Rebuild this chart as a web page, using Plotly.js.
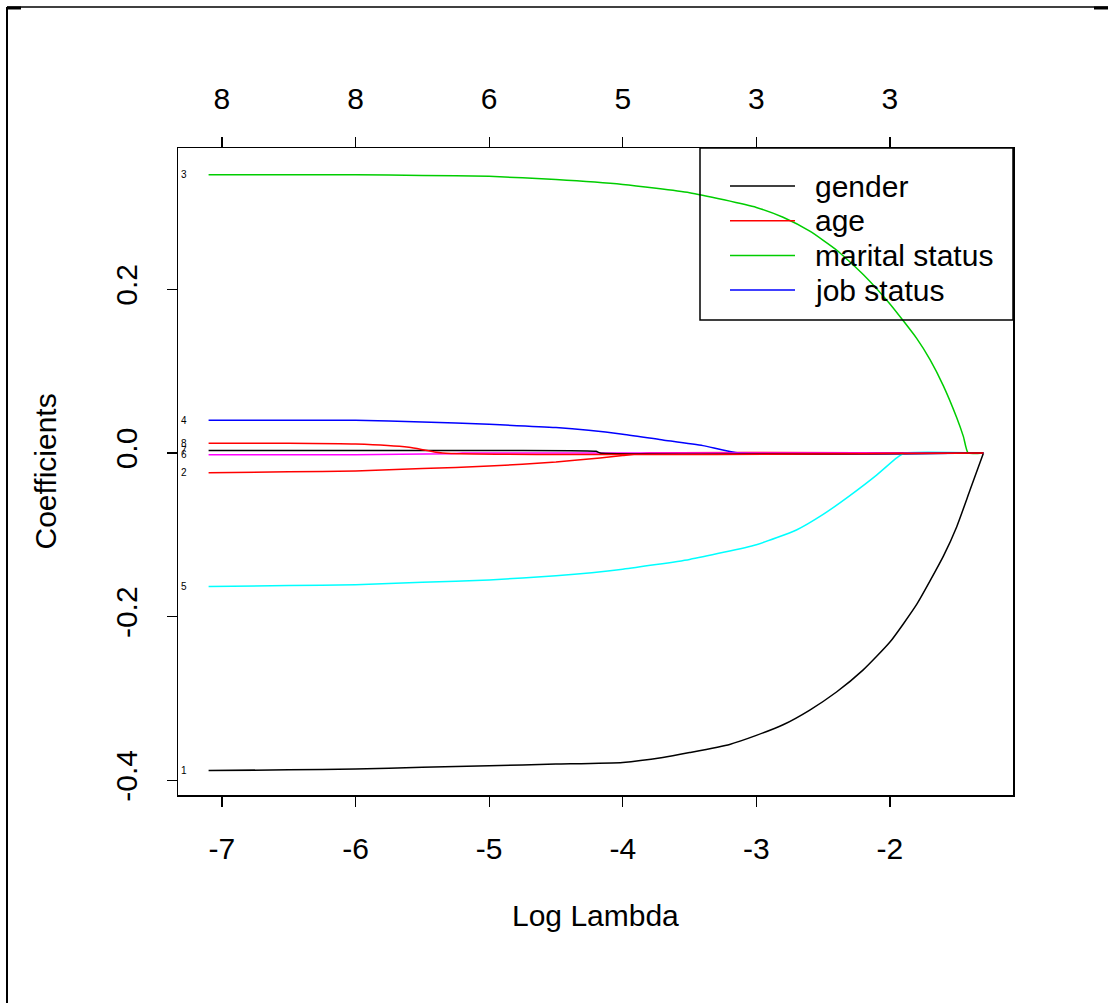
<!DOCTYPE html>
<html>
<head>
<meta charset="utf-8">
<script src="https://cdn.plot.ly/plotly-3.0.1.min.js"></script>
<style>html,body{margin:0;padding:0;background:#fff;}#chart{width:1108px;height:1003px;}</style>
</head>
<body>
<div id="chart"></div>
<script>
// ---- data ----
const legendNames = ["gender", "age", "marital status", "job status"];
const varLabels = ["1", "2", "3", "4", "5", "6", "7", "8"];
const varColors = ["#000000", "#FF0000", "#00CD00", "#0000FF", "#00FFFF", "#FF00FF", "#000000", "#FF0000"];

const lam1 = [-7.1,-6.5,-6,-5.5,-5,-4.5,-4,-3.7,-3.5,-3.2,-3.0,-2.8,-2.6,-2.4,-2.2,-2.0,-1.8,-1.6,-1.5,-1.4,-1.3];
const coef1 = [-0.388,-0.387,-0.386,-0.384,-0.382,-0.380,-0.378,-0.372,-0.366,-0.356,-0.345,-0.332,-0.314,-0.292,-0.265,-0.231,-0.185,-0.126,-0.090,-0.045,0];

const lam2 = [-7.1,-6.5,-6,-5.5,-5,-4.5,-4.17,-4,-3.8,-1.3];
const coef2 = [-0.024,-0.023,-0.022,-0.019,-0.016,-0.011,-0.006,-0.003,0,0];

const lam3 = [-7.1,-6.5,-6,-5.5,-5,-4.5,-4,-3.5,-3.0,-2.8,-2.6,-2.4,-2.2,-2.0,-1.8,-1.7,-1.6,-1.5,-1.45,-1.415,-1.3];
const coef3 = [0.340,0.340,0.340,0.339,0.338,0.334,0.328,0.318,0.300,0.288,0.271,0.248,0.218,0.182,0.140,0.114,0.082,0.043,0.020,0,0];

const lam4 = [-7.1,-6.5,-6,-5.5,-5,-4.5,-4,-3.7,-3.4,-3.13,-1.3];
const coef4 = [0.040,0.040,0.040,0.038,0.035,0.031,0.023,0.016,0.009,0,0];

const lam5 = [-7.1,-6.5,-6,-5.5,-5,-4.5,-4,-3.5,-3.0,-2.7,-2.5,-2.3,-2.1,-1.95,-1.89,-1.3];
const coef5 = [-0.163,-0.162,-0.161,-0.158,-0.155,-0.150,-0.142,-0.130,-0.112,-0.094,-0.075,-0.052,-0.027,-0.006,0,0];

const lam6 = [-7.1,-6,-5.3,-5.2,-1.3];
const coef6 = [-0.002,-0.002,-0.001,0,0];

const lam7 = [-7.1,-5,-4.2,-4.17,-1.3];
const coef7 = [0.003,0.003,0.002,0,0];

const lam8 = [-7.1,-6.5,-6,-5.6,-5.35,-1.3];
const coef8 = [0.012,0.012,0.011,0.007,0,0];

const xTickVals = [-7,-6,-5,-4,-3,-2];
const topCounts = ["8","8","6","5","3","3"];
const yTickVals = [-0.4,-0.2,0.0,0.2];
const yTickText = ["-0.4","-0.2","0.0","0.2"];

// ---- build ----
const lams = [lam1, lam2, lam3, lam4, lam5, lam6, lam7, lam8];
const coefs = [coef1, coef2, coef3, coef4, coef5, coef6, coef7, coef8];
const FONT = "Liberation Sans, Arial, sans-serif";
const FS = 30;

const traces = lams.map((lx, i) => ({
  type: "scatter", mode: "lines",
  x: lx, y: coefs[i],
  name: i < legendNames.length ? legendNames[i] : varLabels[i],
  showlegend: false,
  line: {color: varColors[i], width: 1.5, shape: "spline", smoothing: 0.5},
  hoverinfo: "x+y+name"
}));
// invisible trace to carry the top axis
traces.push({type: "scatter", mode: "markers", x: xTickVals, y: xTickVals.map(() => null),
  xaxis: "x2", showlegend: false, hoverinfo: "skip", marker: {opacity: 0}});

const L = 178, R = 1013, T = 148, B = 795, W = 1108, H = 1003;
const px = v => (v - L) / (R - L);
const py = v => (B - v) / (B - T);

const annotations = lams.map((lx, i) => ({
  x: -7.284, y: coefs[i][0], xref: "x", yref: "y",
  text: varLabels[i], showarrow: false, xanchor: "center", yanchor: "middle",
  font: {family: FONT, size: 10, color: "#000"}
}));
annotations.push({x: 0.5, y: 0, xref: "paper", yref: "paper", yshift: -120,
  text: "Log Lambda", showarrow: false, xanchor: "center", yanchor: "middle",
  font: {family: FONT, size: FS, color: "#000"}});
annotations.push({x: 0, y: 0.5, xref: "paper", yref: "paper", xshift: -133,
  text: "Coefficients", showarrow: false, xanchor: "center", yanchor: "middle", textangle: -90,
  font: {family: FONT, size: FS, color: "#000"}});

const shapes = [
  // legend box
  {type: "rect", xref: "paper", yref: "paper", x0: px(700), x1: 1, y0: py(320), y1: 1,
   line: {color: "#000", width: 1.5}},
  // outer frame (left and top)
  {type: "line", xref: "paper", yref: "paper", x0: px(7), x1: px(7), y0: py(7), y1: py(1010),
   line: {color: "#000", width: 2}},
  {type: "line", xref: "paper", yref: "paper", x0: px(7), x1: px(1110), y0: py(7), y1: py(7),
   line: {color: "#000", width: 1.3}},
  {type: "line", xref: "paper", yref: "paper", x0: px(1094), x1: px(1110), y0: py(8), y1: py(8),
   line: {color: "#000", width: 3}},
  {type: "line", xref: "paper", yref: "paper", x0: px(7), x1: px(21), y0: py(8), y1: py(8),
   line: {color: "#000", width: 3}}
];

// legend entries (lines + text) inside the box
legendNames.forEach((nm, i) => {
  const yc = 186 + i * 34.7;
  shapes.push({type: "line", xref: "paper", yref: "paper", x0: px(730), x1: px(795),
    y0: py(yc), y1: py(yc), line: {color: varColors[i], width: 1.5}});
  annotations.push({x: px(813), y: py(yc), xref: "paper", yref: "paper",
    text: nm, showarrow: false, xanchor: "left", yanchor: "middle",
    font: {family: FONT, size: FS, color: "#000"}});
});

const xRange = [-7.329, -1.079];
const layout = {
  width: W, height: H,
  margin: {l: L, r: W - R, t: T, b: H - B, pad: 0},
  paper_bgcolor: "#fff", plot_bgcolor: "#fff",
  font: {family: FONT, size: FS, color: "#000"},
  showlegend: false,
  xaxis: {range: xRange, tickvals: xTickVals, ticktext: xTickVals.map(String),
    ticks: "outside", ticklen: 10, tickwidth: 1.3, tickcolor: "#000",
    showline: true, mirror: true, linecolor: "#000", linewidth: 1.5,
    showgrid: false, zeroline: false, ticklabelstandoff: 16,
    tickfont: {family: FONT, size: FS, color: "#000"}},
  xaxis2: {range: xRange, overlaying: "x", side: "top", anchor: "y",
    tickvals: xTickVals, ticktext: topCounts,
    ticks: "outside", ticklen: 10, tickwidth: 1.3, tickcolor: "#000",
    showline: false, showgrid: false, zeroline: false, ticklabelstandoff: 16,
    tickfont: {family: FONT, size: FS, color: "#000"}},
  yaxis: {range: [-0.4178, 0.3726], tickvals: yTickVals, ticktext: yTickText,
    tickangle: -90, ticks: "outside", ticklen: 10, tickwidth: 1.3, tickcolor: "#000",
    showline: true, mirror: true, linecolor: "#000", linewidth: 1.5,
    showgrid: false, zeroline: false, ticklabelstandoff: 18,
    tickfont: {family: FONT, size: FS, color: "#000"}},
  annotations: annotations,
  shapes: shapes
};

Plotly.newPlot("chart", traces, layout, {displayModeBar: false, staticPlot: true});
</script>
</body>
</html>
